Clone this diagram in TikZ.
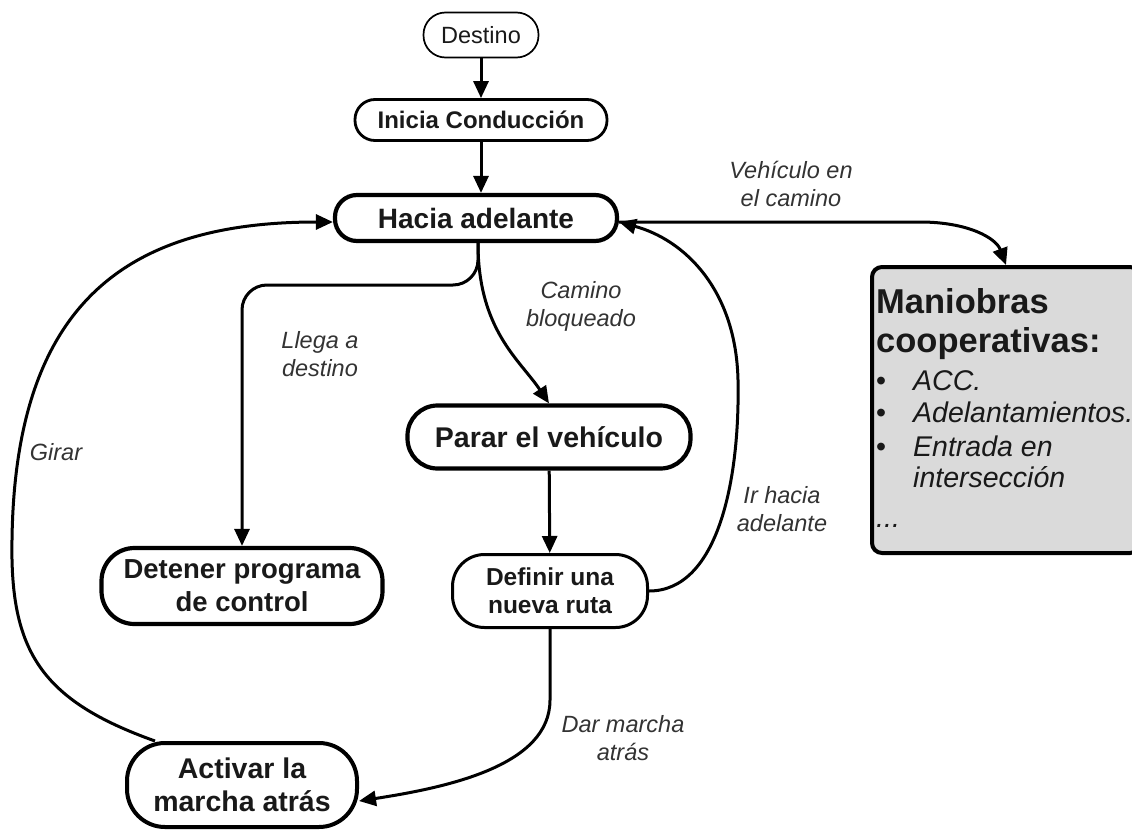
\documentclass[tikz,border=0pt]{standalone}
\usepackage{fontspec}
\setmainfont{Liberation Sans}
\usetikzlibrary{arrows.meta}
\definecolor{mgray}{RGB}{218,218,218}
\definecolor{txt}{RGB}{25,25,25}
\newcommand\mbul{\makebox[37pt][l]{\upshape\textbullet}}
\begin{document}
\begin{tikzpicture}[x=1pt,y=-1pt,
  stadium/.style={draw, align=center, inner sep=0pt, text=txt},
  conn/.style={line width=3pt, -{Triangle[length=17pt,width=15pt]}},
  lbl/.style={font=\fontsize{23.5}{28}\selectfont\itshape, text=black!80, align=center, inner sep=0pt},
  mtitle/.style={font=\fontsize{34.5}{39}\selectfont\bfseries, text=txt, inner sep=0pt, anchor=base west},
  mitem/.style={font=\fontsize{28.5}{32}\selectfont\itshape, text=txt, inner sep=0pt, anchor=base west}]
\useasboundingbox (0,0) rectangle (1132,830);

% nodes
\node[stadium, line width=1.7pt, rounded corners=22pt, minimum width=115pt, minimum height=45pt,
  font=\fontsize{23.5}{26}\selectfont] (dest) at (481,35) {Destino};
\node[stadium, line width=2.8pt, rounded corners=20pt, minimum width=252pt, minimum height=41pt,
  font=\fontsize{24}{27}\selectfont\bfseries] (ini) at (481,120) {Inicia Conducción};
\node[stadium, line width=4.2pt, rounded corners=22pt, minimum width=282pt, minimum height=46pt,
  font=\fontsize{28}{31}\selectfont\bfseries] (hacia) at (476,218) {Hacia adelante};
\node[stadium, line width=4.2pt, rounded corners=30pt, minimum width=283pt, minimum height=63pt,
  font=\fontsize{28.5}{31}\selectfont\bfseries] (par) at (549,437) {Parar el vehículo};
\node[stadium, line width=4.2pt, rounded corners=33pt, minimum width=281pt, minimum height=76pt,
  font=\fontsize{27.5}{33}\selectfont\bfseries] (det) at (242,586) {Detener programa\\de control};
\node[stadium, line width=3pt, rounded corners=32pt, minimum width=195pt, minimum height=73pt,
  font=\fontsize{24.5}{28}\selectfont\bfseries] (def) at (550,591) {Definir una\\nueva ruta};
\node[stadium, line width=4pt, rounded corners=38pt, minimum width=230pt, minimum height=84pt,
  font=\fontsize{28.5}{33}\selectfont\bfseries] (act) at (242,785) {Activar la\\marcha atrás};
\node[draw, fill=mgray, line width=4pt, rounded corners=10pt, minimum width=268pt, minimum height=286pt,
  inner sep=0pt] (man) at (1006,410) {};

% text of the cooperative box
\node[mtitle] (m1) at (876,313) {Maniobras};
\node[mtitle] (m2) at (876,352) {cooperativas:};
\node[mitem] (m3) at (876,390) {\mbul ACC.};
\node[mitem] (m4) at (876,422) {\mbul Adelantamientos.};
\node[mitem] (m5) at (876,456) {\mbul Entrada en};
\node[mitem] (m6) at (876,487) {\hspace*{37pt}intersección};
\node[mitem] (m7) at (876,527) {...};

% connectors
\draw[conn] (dest) -- (ini);
\draw[conn] (ini.south) -- (ini.south |- hacia.north);
\draw[conn, rounded corners=25pt] ([xshift=2pt]hacia.south) -- (478,285) -| (det.north);
\draw[conn] ([xshift=2pt]hacia.south) .. controls (478,330) and (520,360) .. (par.north);
\draw[conn] (par) -- (def);
\draw[conn] (def.east) .. controls (718,591) and (740,480) .. (738,380)
  .. controls (736,290) and (685,240) .. ([yshift=-4pt]hacia.east);
\draw[conn] (def.south) -- (550,700) .. controls (550,765) and (450,787) .. ([yshift=-16pt]act.east);
\draw[conn] ([xshift=30pt]act.north west) .. controls (40,700) and (10,650) .. (12,540)
  .. controls (15,300) and (130,222) .. ([yshift=-4pt]hacia.west);
\draw[conn] ([yshift=-4pt]hacia.east) -- (920,222) .. controls (968,222) and (996,238) .. (man.north);

% labels
\node[lbl] (l1) at (791,184) {Vehículo en\\el camino};
\node[lbl] (l2) at (320,354) {Llega a\\destino};
\node[lbl] (l3) at (581,306) {Camino\\bloqueado};
\node[lbl] (l4) at (782,509) {Ir hacia\\adelante};
\node[lbl] (l5) at (623,738) {Dar marcha\\atrás};
\node[lbl] (l6) at (56,452) {Girar};
\end{tikzpicture}
\end{document}
